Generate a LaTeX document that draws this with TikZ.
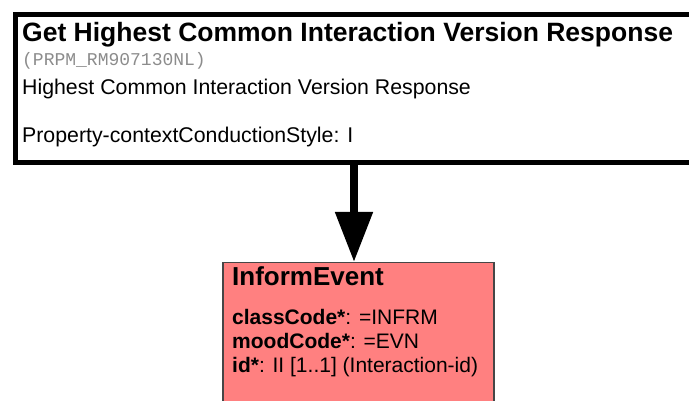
\documentclass[tikz,border=0pt]{standalone}
\usepackage{fontspec}
\setmainfont{Liberation Sans}
\setmonofont{Liberation Mono}
\usetikzlibrary{arrows.meta}

\definecolor{evtred}{RGB}{255,128,128}
\definecolor{evtline}{RGB}{70,70,70}
\definecolor{idgrey}{RGB}{140,140,140}

\tikzset{
  txt/.style={anchor=base west,inner sep=0pt,font=\fontsize{21.3}{24}\selectfont},
  attr/.style={txt,font=\fontsize{21}{24}\selectfont}
}

\begin{document}
\begin{tikzpicture}[x=1pt,y=-1pt]
          \useasboundingbox (0,0) rectangle (689,401);
          \clip (0,0) rectangle (689,401);
          \node[draw,line width=5pt,minimum width=720pt,minimum height=147.5pt,anchor=north west,inner sep=0pt] (Resp) at (12.5,12.5) {};
          \node[txt,font=\bfseries\fontsize{26.5}{30}\selectfont] (Title) at (22,42) {Get Highest Common Interaction Version Response};
          \node[txt,font=\ttfamily\fontsize{18}{20}\selectfont,text=idgrey] (Code) at (22,66) {(PRPM\_RM907130NL)};
          \node[txt] (Desc) at (22,95) {Highest Common Interaction Version Response};
          \node[txt] (Prop) at (22,143) {Property-contextConductionStyle: I};
          \node[draw=evtline,fill=evtred,line width=1.5pt,minimum width=271pt,minimum height=160pt,anchor=north west,inner sep=0pt] (Evt) at (222,262) {};
          \node[txt,font=\bfseries\fontsize{26}{28}\selectfont] (EvtName) at (232,286) {InformEvent};
          \node[attr] (Cls) at (232,324) {\textbf{classCode*}: =INFRM};
          \node[attr] (Mood) at (232,348) {\textbf{moodCode*}: =EVN};
          \node[attr] (Id) at (232,372) {\textbf{id*}: II [1..1] (Interaction-id)};
          \draw[line width=8pt,-{Triangle[width=36pt,length=50pt]}] (Resp.south -| 354,0) -- (Evt.north -| 354,0);
        \end{tikzpicture}
\end{document}
